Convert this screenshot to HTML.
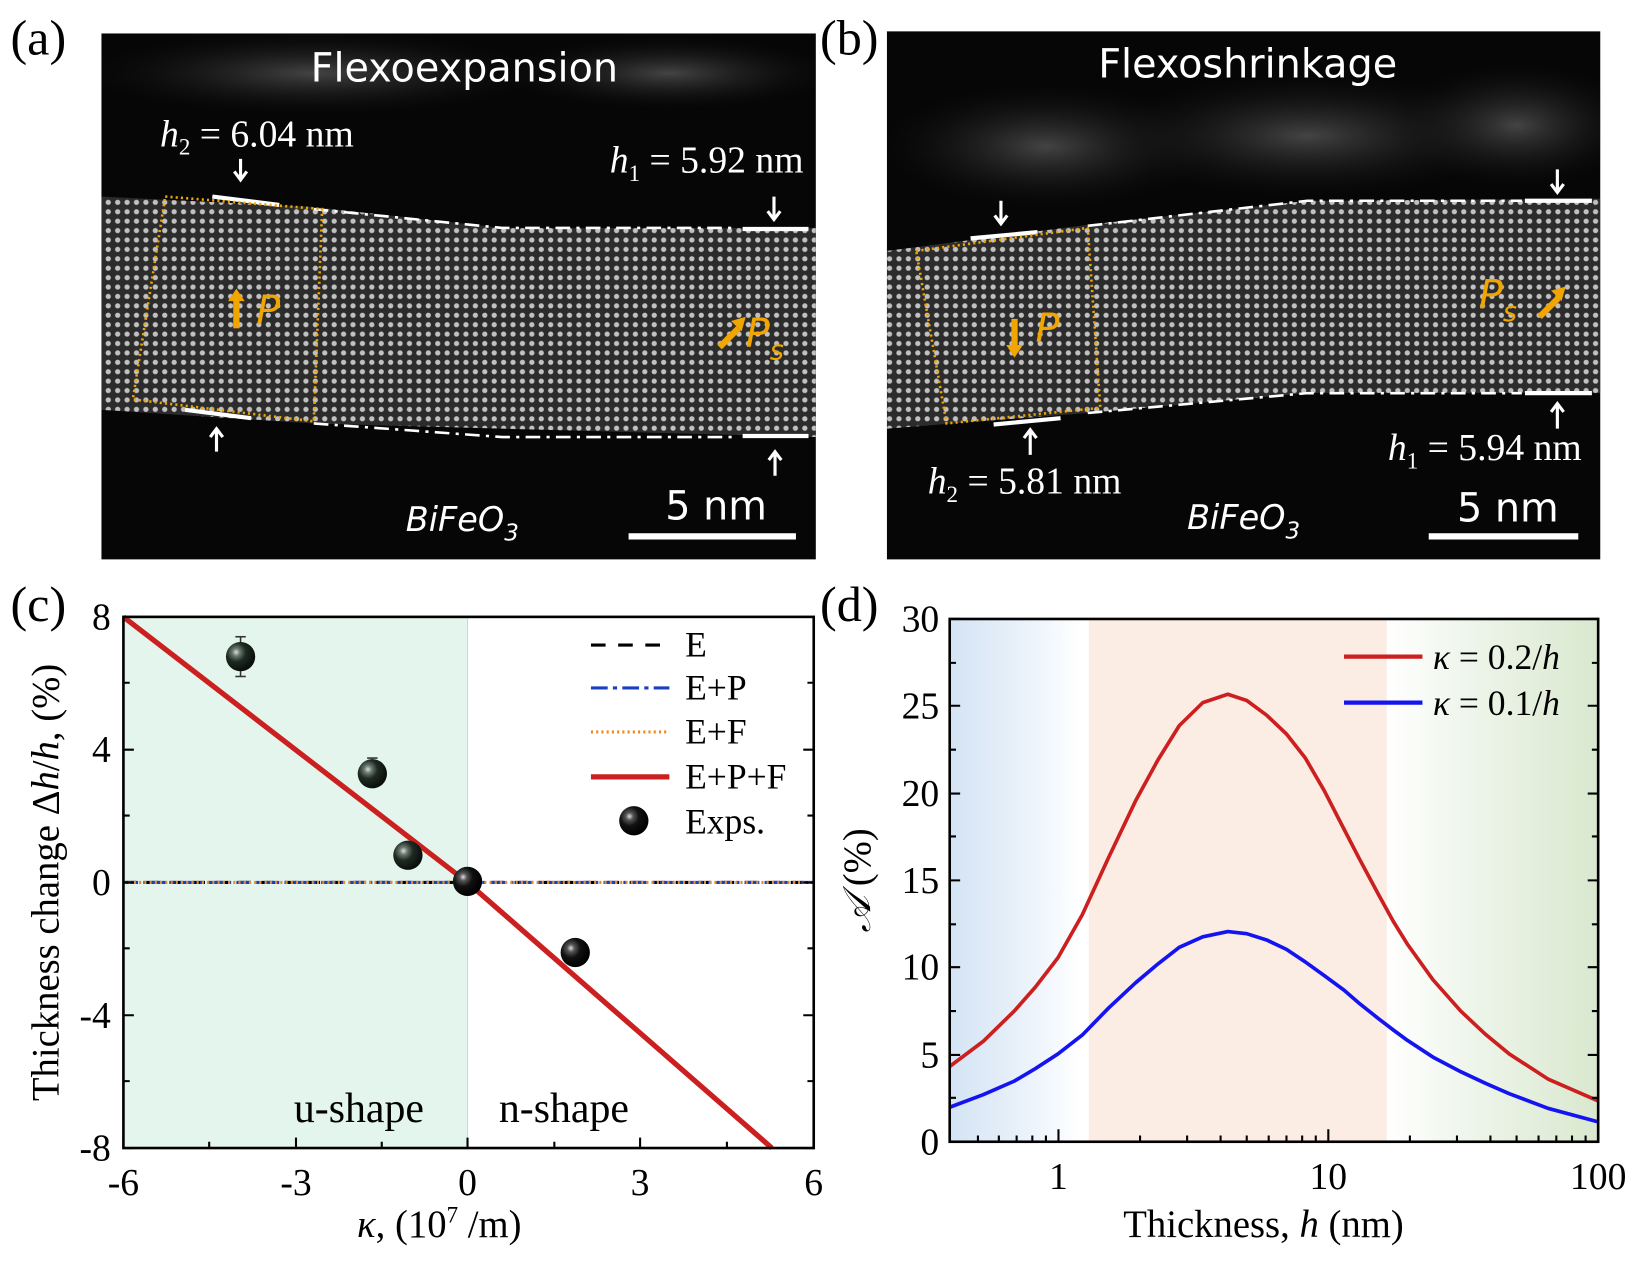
<!DOCTYPE html>
<html><head><meta charset="utf-8"><style>
html,body{margin:0;padding:0;background:#fff;}
svg{display:block;}
.t{font-family:"Liberation Serif",serif;}
.s{font-family:"DejaVu Sans","Liberation Sans",sans-serif;}
</style></head><body>
<svg width="1640" height="1262" viewBox="0 0 1568 1207" preserveAspectRatio="none" xmlns="http://www.w3.org/2000/svg">
<defs>
<pattern id="dots" width="9" height="9" patternUnits="userSpaceOnUse">
<rect width="9" height="9" fill="#333"/>
<circle cx="4.5" cy="4.5" r="2.5" fill="#e2e2e2"/>
</pattern>
<radialGradient id="haze" cx="50%" cy="50%" r="50%"><stop offset="0" stop-color="#444"/><stop offset="1" stop-color="#111" stop-opacity="0"/></radialGradient>
<linearGradient id="bg1" x1="0" x2="1"><stop offset="0" stop-color="#d4e4f4"/><stop offset="0.55" stop-color="#e9f1fa"/><stop offset="1" stop-color="#fff"/></linearGradient>
<linearGradient id="bg3" x1="0" x2="1"><stop offset="0" stop-color="#fff"/><stop offset="0.4" stop-color="#eef5ea"/><stop offset="1" stop-color="#d9e8cf"/></linearGradient>
<radialGradient id="ball" cx="35%" cy="35%" r="65%"><stop offset="0" stop-color="#ddd"/><stop offset="0.2" stop-color="#6a7a70"/><stop offset="0.5" stop-color="#1e2a22"/><stop offset="1" stop-color="#0a0f0c"/></radialGradient>
<radialGradient id="ballk" cx="35%" cy="35%" r="65%"><stop offset="0" stop-color="#ddd"/><stop offset="0.2" stop-color="#555"/><stop offset="0.5" stop-color="#111"/><stop offset="1" stop-color="#000"/></radialGradient>
<clipPath id="ca"><rect x="97" y="32" width="683" height="503"/></clipPath>
<clipPath id="cb"><rect x="848" y="30" width="682" height="505"/></clipPath>
</defs>

<!-- Panel a -->
<rect x="97" y="32" width="683" height="503" fill="#060606"/>
<g clip-path="url(#ca)">
<ellipse cx="300" cy="70" rx="220" ry="40" fill="url(#haze)"/>
<ellipse cx="640" cy="70" rx="160" ry="35" fill="url(#haze)"/>
<polygon points="97,188 300,198 480,218 780,218 780,418 480,410 300,405 97,392" fill="url(#dots)" opacity="0.85"/>
</g>
<polyline points="300,200 480,218 705,218" fill="none" stroke="#fff" stroke-width="2.5" stroke-dasharray="14,6,3,6"/>
<polyline points="300,405 480,418 705,418" fill="none" stroke="#fff" stroke-width="2.5" stroke-dasharray="14,6,3,6"/>
<line x1="203" y1="188" x2="267" y2="196" stroke="#fff" stroke-width="4"/>
<line x1="177" y1="392" x2="240" y2="400" stroke="#fff" stroke-width="4"/>
<line x1="710" y1="219" x2="773" y2="219" stroke="#fff" stroke-width="4"/>
<line x1="710" y1="417" x2="773" y2="417" stroke="#fff" stroke-width="4"/>
<polygon points="158,188 308,200 300,403 127,382" fill="none" stroke="#f0a500" stroke-width="2.5" stroke-dasharray="2,3"/>
<text x="297" y="78" class="s" font-size="38" fill="#fff">Flexoexpansion</text>
<text x="153" y="140" class="t" font-size="36" fill="#fff"><tspan font-style="italic">h</tspan><tspan font-size="22" dy="8">2</tspan><tspan dy="-8"> = 6.04 nm</tspan></text>
<text x="583" y="165" class="t" font-size="36" fill="#fff"><tspan font-style="italic">h</tspan><tspan font-size="22" dy="8">1</tspan><tspan dy="-8"> = 5.92 nm</tspan></text>
<path d="M230,152 v18 M224,164 l6,8 6,-8" stroke="#fff" stroke-width="3" fill="none"/>
<path d="M740,188 v22 M734,202 l6,8 6,-8" stroke="#fff" stroke-width="3" fill="none"/>
<path d="M207,432 v-20 M201,418 l6,-8 6,8" stroke="#fff" stroke-width="3" fill="none"/>
<path d="M741,455 v-22 M735,440 l6,-8 6,8" stroke="#fff" stroke-width="3" fill="none"/>
<path d="M226,314 v-30" stroke="#f0a500" stroke-width="6"/><path d="M218,288 l8,-12 8,12z" fill="#f0a500"/>
<text x="245" y="310" class="s" font-size="38" font-style="italic" fill="#f0a500">P</text>
<path d="M688,332 l18,-18" stroke="#f0a500" stroke-width="6"/><path d="M699,307 l14,-4 -4,14z" fill="#f0a500"/>
<text x="713" y="332" class="s" font-size="38" font-style="italic" fill="#f0a500">P<tspan font-size="26" dy="12">s</tspan></text>
<text x="388" y="508" class="s" font-size="32" font-style="italic" fill="#fff">BiFeO<tspan font-size="22" dy="9">3</tspan></text>
<text x="636" y="497" class="s" font-size="38" fill="#fff">5 nm</text>
<rect x="601" y="510" width="160" height="6" fill="#fff"/>

<!-- Panel b -->
<rect x="848" y="30" width="682" height="505" fill="#060606"/>
<g clip-path="url(#cb)">
<ellipse cx="1000" cy="140" rx="160" ry="60" fill="url(#haze)"/>
<ellipse cx="1250" cy="130" rx="200" ry="60" fill="url(#haze)"/>
<ellipse cx="1450" cy="120" rx="120" ry="60" fill="url(#haze)"/>
<polygon points="848,240 1040,215 1250,192 1530,190 1530,376 1250,376 1040,395 848,410" fill="url(#dots)" opacity="0.85"/>
</g>
<polyline points="1040,216 1250,192 1455,192" fill="none" stroke="#fff" stroke-width="2.5" stroke-dasharray="14,6,3,6"/>
<polyline points="1040,395 1250,376 1455,376" fill="none" stroke="#fff" stroke-width="2.5" stroke-dasharray="14,6,3,6"/>
<line x1="928" y1="228" x2="992" y2="222" stroke="#fff" stroke-width="4"/>
<line x1="950" y1="406" x2="1014" y2="400" stroke="#fff" stroke-width="4"/>
<line x1="1458" y1="192" x2="1522" y2="192" stroke="#fff" stroke-width="4"/>
<line x1="1458" y1="376" x2="1522" y2="376" stroke="#fff" stroke-width="4"/>
<polygon points="876,240 1040,218 1052,390 905,405" fill="none" stroke="#f0a500" stroke-width="2.5" stroke-dasharray="2,3"/>
<text x="1050" y="74" class="s" font-size="38" fill="#fff">Flexoshrinkage</text>
<path d="M957,192 v22 M951,206 l6,8 6,-8" stroke="#fff" stroke-width="3" fill="none"/>
<path d="M1489,162 v22 M1483,176 l6,8 6,-8" stroke="#fff" stroke-width="3" fill="none"/>
<path d="M985,435 v-22 M979,419 l6,-8 6,8" stroke="#fff" stroke-width="3" fill="none"/>
<path d="M1489,410 v-22 M1483,394 l6,-8 6,8" stroke="#fff" stroke-width="3" fill="none"/>
<text x="887" y="472" class="t" font-size="36" fill="#fff"><tspan font-style="italic">h</tspan><tspan font-size="22" dy="8">2</tspan><tspan dy="-8"> = 5.81 nm</tspan></text>
<text x="1327" y="440" class="t" font-size="36" fill="#fff"><tspan font-style="italic">h</tspan><tspan font-size="22" dy="8">1</tspan><tspan dy="-8"> = 5.94 nm</tspan></text>
<path d="M970,305 v30" stroke="#f0a500" stroke-width="6"/><path d="M962,330 l8,12 8,-12z" fill="#f0a500"/>
<text x="990" y="327" class="s" font-size="38" font-style="italic" fill="#f0a500">P</text>
<text x="1414" y="295" class="s" font-size="38" font-style="italic" fill="#f0a500">P<tspan font-size="26" dy="12">s</tspan></text>
<path d="M1472,303 l18,-18" stroke="#f0a500" stroke-width="6"/><path d="M1483,278 l14,-4 -4,14z" fill="#f0a500"/>
<text x="1135" y="506" class="s" font-size="32" font-style="italic" fill="#fff">BiFeO<tspan font-size="22" dy="9">3</tspan></text>
<text x="1393" y="499" class="s" font-size="38" fill="#fff">5 nm</text>
<rect x="1366" y="510" width="143" height="6" fill="#fff"/>

<g class="t" font-size="48" fill="#000">
<text x="10" y="52">(a)</text><text x="784" y="52">(b)</text>
<text x="10" y="594">(c)</text><text x="784" y="594">(d)</text>
</g>

<!-- Panel c -->
<rect x="118" y="590" width="329" height="508" fill="#e3f5ec"/>
<line x1="447" y1="590" x2="447" y2="1098" stroke="#c9dcd2" stroke-width="1"/>
<line x1="118" y1="844" x2="778" y2="844" stroke="#000" stroke-width="3" stroke-dasharray="12,10"/>
<line x1="118" y1="844" x2="778" y2="844" stroke="#1a3fc0" stroke-width="3" stroke-dasharray="14,5,3,5"/>
<line x1="118" y1="844" x2="778" y2="844" stroke="#f08a20" stroke-width="3" stroke-dasharray="2,3"/>
<polyline points="118,590 447,844 738,1098" fill="none" stroke="#cc2020" stroke-width="5"/>
<g stroke="#333" stroke-width="1.5"><line x1="230" y1="609" x2="230" y2="647"/><line x1="225" y1="609" x2="235" y2="609"/><line x1="225" y1="647" x2="235" y2="647"/>
<line x1="356" y1="725" x2="356" y2="752"/><line x1="351" y1="725" x2="361" y2="725"/><line x1="351" y1="752" x2="361" y2="752"/></g>
<circle cx="230" cy="628" r="14" fill="url(#ball)"/>
<circle cx="356" cy="740" r="14" fill="url(#ball)"/>
<circle cx="390" cy="818" r="14" fill="url(#ball)"/>
<circle cx="447" cy="843" r="14" fill="url(#ballk)"/>
<circle cx="550" cy="911" r="14" fill="url(#ballk)"/>
<rect x="118" y="590" width="660" height="508" fill="none" stroke="#000" stroke-width="2.5"/>
<g stroke="#000" stroke-width="2">
<path d="M118,590h10M118,717h10M118,844h10M118,971h10M118,1098h10M118,653h6M118,780h6M118,907h6M118,1034h6"/>
<path d="M778,590h-10M778,717h-10M778,844h-10M778,971h-10M778,1098h-10M778,653h-6M778,780h-6M778,907h-6M778,1034h-6"/>
<path d="M118,1098v-10M283,1098v-10M447,1098v-10M612,1098v-10M778,1098v-10M200,1098v-6M365,1098v-6M530,1098v-6M695,1098v-6"/>
</g>
<g class="t" font-size="36" text-anchor="end"><text x="106" y="602">8</text><text x="106" y="729">4</text><text x="106" y="856">0</text><text x="106" y="983">-4</text><text x="106" y="1110">-8</text></g>
<g class="t" font-size="36" text-anchor="middle"><text x="118" y="1143">-6</text><text x="283" y="1143">-3</text><text x="447" y="1143">0</text><text x="612" y="1143">3</text><text x="778" y="1143">6</text></g>
<text class="t" font-size="37" x="420" y="1183" text-anchor="middle"><tspan font-style="italic">κ</tspan>, (10<tspan font-size="22" dy="-14">7</tspan><tspan dy="14"> /m)</tspan></text>
<text class="t" font-size="37" transform="translate(56,844) rotate(-90)" text-anchor="middle">Thickness change Δ<tspan font-style="italic">h</tspan>/<tspan font-style="italic">h</tspan>, (%)</text>
<text class="t" font-size="40" x="281" y="1073">u-shape</text>
<text class="t" font-size="40" x="477" y="1073">n-shape</text>
<g class="t" font-size="34">
<line x1="565" y1="617" x2="640" y2="617" stroke="#000" stroke-width="3" stroke-dasharray="14,12"/><text x="655" y="628">E</text>
<line x1="565" y1="658" x2="640" y2="658" stroke="#1a3fc0" stroke-width="3" stroke-dasharray="16,5,4,5"/><text x="655" y="669">E+P</text>
<line x1="565" y1="700" x2="640" y2="700" stroke="#f08a20" stroke-width="3" stroke-dasharray="2,3"/><text x="655" y="711">E+F</text>
<line x1="565" y1="743" x2="640" y2="743" stroke="#cc2020" stroke-width="5"/><text x="655" y="754">E+P+F</text>
<circle cx="606" cy="785" r="14" fill="url(#ballk)"/><text x="655" y="797">Exps.</text>
</g>

<!-- Panel d -->
<rect x="908" y="592" width="125" height="500" fill="url(#bg1)"/>
<rect x="1033" y="592" width="8" height="500" fill="#fff"/>
<rect x="1041" y="592" width="285" height="500" fill="#fcede4"/>
<rect x="1326" y="592" width="202" height="500" fill="url(#bg3)"/>
<polyline fill="none" stroke="#cc1f1f" stroke-width="3.5" stroke-linejoin="round" points="908,1020 940,996 969.7,967 990,944 1011.5,916 1034.7,875 1060,820 1085.7,766 1107,727 1127.5,694 1150,672 1173.9,664 1192,670 1211,684 1230,702 1248,725 1266,756 1285,793 1300,822 1317.7,855 1332,881 1345.6,903 1370,937 1396.6,967 1420,989 1443,1008 1480,1032 1528,1053"/>
<polyline fill="none" stroke="#1414f0" stroke-width="3.5" stroke-linejoin="round" points="908,1059 940,1047 969.7,1034 990,1022 1011.5,1008 1034.7,990 1060,964 1085.7,940 1107,922 1127.5,906 1150,896 1173.9,891 1192,893 1211,899 1230,908 1248,920 1266,933 1285,947 1300,960 1317.7,974 1332,985 1345.6,995 1370,1011 1396.6,1025 1420,1036 1443,1046 1480,1060 1528,1073"/>
<rect x="908" y="592" width="620" height="500" fill="none" stroke="#000" stroke-width="2.5"/>
<g stroke="#000" stroke-width="2">
<path d="M908,592h10M908,675h10M908,759h10M908,842h10M908,925h10M908,1009h10M908,1092h10M908,634h6M908,717h6M908,800h6M908,884h6M908,967h6M908,1050h6"/>
<path d="M1528,592h-10M1528,675h-10M1528,759h-10M1528,842h-10M1528,925h-10M1528,1009h-10M1528,1092h-10M1528,634h-6M1528,717h-6M1528,800h-6M1528,884h-6M1528,967h-6M1528,1050h-6"/>
<path d="M1012,1092v-12M1270,1092v-12M1528,1092v-12"/>
<path d="M935,1092v-6M955,1092v-6M972,1092v-6M987,1092v-6M1000,1092v-6M1090,1092v-6M1135,1092v-6M1167,1092v-6M1192,1092v-6M1213,1092v-6M1230,1092v-6M1245,1092v-6M1258,1092v-6M1348,1092v-6M1393,1092v-6M1425,1092v-6M1450,1092v-6M1471,1092v-6M1488,1092v-6M1503,1092v-6M1516,1092v-6"/>
</g>
<g class="t" font-size="36" text-anchor="end"><text x="898" y="604">30</text><text x="898" y="687">25</text><text x="898" y="771">20</text><text x="898" y="854">15</text><text x="898" y="937">10</text><text x="898" y="1021">5</text><text x="898" y="1104">0</text></g>
<g class="t" font-size="36" text-anchor="middle"><text x="1012" y="1137">1</text><text x="1270" y="1137">10</text><text x="1528" y="1137">100</text></g>
<text class="t" font-size="37" x="1208" y="1183" text-anchor="middle">Thickness, <tspan font-style="italic">h</tspan> (nm)</text>
<text class="t" font-size="37" transform="translate(832,842) rotate(-90)" text-anchor="middle"><tspan font-style="italic">𝒜</tspan> (%)</text>
<line x1="1285" y1="628" x2="1360" y2="628" stroke="#cc1f1f" stroke-width="4"/>
<line x1="1285" y1="672" x2="1360" y2="672" stroke="#1414f0" stroke-width="4"/>
<g class="t" font-size="34"><text x="1370" y="640"><tspan font-style="italic">κ</tspan> = 0.2/<tspan font-style="italic">h</tspan></text><text x="1370" y="684"><tspan font-style="italic">κ</tspan> = 0.1/<tspan font-style="italic">h</tspan></text></g>
</svg>
</body></html>
